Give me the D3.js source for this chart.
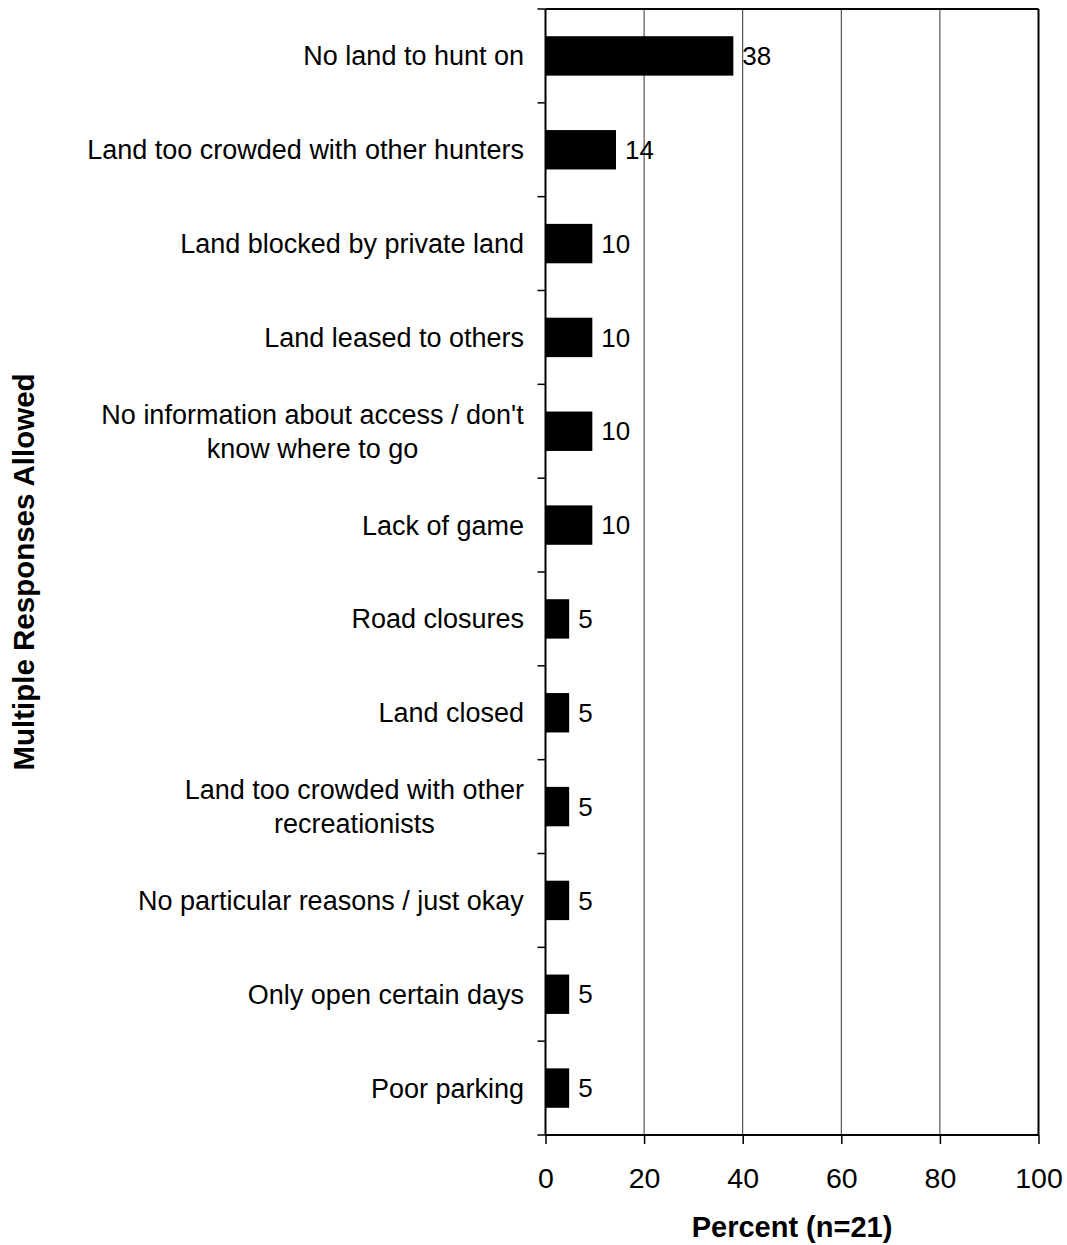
<!DOCTYPE html>
<html><head><meta charset="utf-8">
<script src="https://cdn.jsdelivr.net/npm/d3@7"></script>
<style>body{margin:0;background:#fff}svg{display:block}text{font-family:"Liberation Sans",Arial,sans-serif;fill:#000}</style>
</head><body>
<svg id="c" width="1067" height="1245"></svg>
<script>
const categories = [
  ["No land to hunt on"],
  ["Land too crowded with other hunters"],
  ["Land blocked by private land"],
  ["Land leased to others"],
  ["No information about access / don't", "know where to go"],
  ["Lack of game"],
  ["Road closures"],
  ["Land closed"],
  ["Land too crowded with other", "recreationists"],
  ["No particular reasons / just okay"],
  ["Only open certain days"],
  ["Poor parking"]
];
const values = [38.1, 14.3, 9.5, 9.5, 9.5, 9.5, 4.8, 4.8, 4.8, 4.8, 4.8, 4.8];
const xTicks = [0, 20, 40, 60, 80, 100];
const xTitle = "Percent (n=21)";
const yTitle = "Multiple Responses Allowed";

const svg = d3.select("#c");
const L = 545.5, R = 1038.5, T = 9, B = 1135;
const ids = categories.map((d, i) => i);
const x = d3.scaleLinear().domain([0, 100]).range([L, R]);
const y = d3.scaleBand().domain(ids).range([T, B]).paddingInner(0.58).paddingOuter(0.29);
const step = y.step();

// gridlines
svg.append("g").selectAll("line").data(xTicks.filter(t => t > 0 && t < 100)).join("line")
  .attr("x1", d => x(d)).attr("x2", d => x(d)).attr("y1", T).attr("y2", B)
  .attr("stroke", "#333").attr("stroke-width", 1);

// bars
svg.append("g").selectAll("rect").data(values).join("rect")
  .attr("x", x(0)).attr("y", (d, i) => y(i))
  .attr("width", d => x(d) - x(0)).attr("height", y.bandwidth())
  .attr("fill", "#000");

// value labels
svg.append("g").selectAll("text").data(values).join("text")
  .attr("x", d => x(d) + 9).attr("y", (d, i) => y(i) + y.bandwidth() / 2)
  .attr("dy", "0.35em").attr("font-size", 26).text(d => d3.format(".0f")(d));

// frame: top and right
svg.append("line").attr("x1", L).attr("x2", R).attr("y1", T).attr("y2", T).attr("stroke", "#000").attr("stroke-width", 2);
svg.append("line").attr("x1", R).attr("x2", R).attr("y1", T).attr("y2", B).attr("stroke", "#000").attr("stroke-width", 2);

// x axis
const xAxis = d3.axisBottom(x).tickValues(xTicks).tickSize(9).tickPadding(24).tickFormat(d3.format("d"));
const gx = svg.append("g").attr("transform", `translate(0,${B})`).call(xAxis);
gx.select(".domain").attr("stroke-width", 2).attr("d", `M${L},0H${R}`);
gx.selectAll(".tick line").attr("stroke-width", 1.5);
gx.selectAll(".tick text").attr("font-size", 28.5).attr("font-family", "Liberation Sans, Arial, sans-serif").attr("fill", "#000");

// y axis: line + ticks at band boundaries
svg.append("line").attr("x1", L).attr("x2", L).attr("y1", T).attr("y2", B).attr("stroke", "#000").attr("stroke-width", 2);
const bounds = d3.range(categories.length + 1).map(i => T + i * step);
svg.append("g").selectAll("line").data(bounds).join("line")
  .attr("x1", L - 8).attr("x2", L).attr("y1", d => d).attr("y2", d => d)
  .attr("stroke", "#000").attr("stroke-width", 1.5);

// category labels
const labelRight = 524;
const lg = svg.append("g");
categories.forEach((lines, i) => {
  const cy = y(i) + y.bandwidth() / 2;
  const lh = 34;
  const t = lg.append("text").attr("font-size", 27).attr("text-anchor", "middle");
  lines.forEach((ln, j) => {
    t.append("tspan").attr("x", 0).attr("y", cy + (j - (lines.length - 1) / 2) * lh).attr("dy", "0.35em").text(ln);
  });
  const w = t.node().getBBox().width;
  t.selectAll("tspan").attr("x", labelRight - w / 2);
});

// axis titles
svg.append("text").attr("x", (L + R) / 2).attr("y", 1237).attr("text-anchor", "middle")
  .attr("font-size", 29).attr("font-weight", "bold").text(xTitle);
svg.append("text").attr("transform", `translate(33.5,${(T + B) / 2}) rotate(-90)`).attr("text-anchor", "middle")
  .attr("font-size", 29.5).attr("font-weight", "bold").text(yTitle);
</script>
</body></html>
